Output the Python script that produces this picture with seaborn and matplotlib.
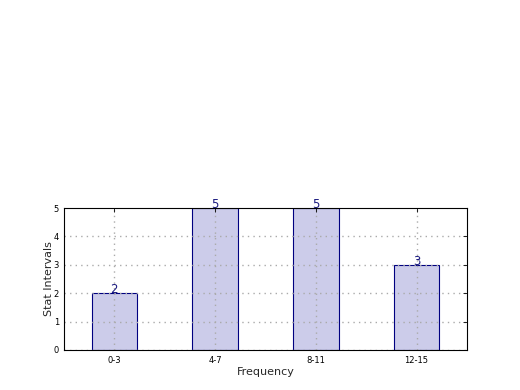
import matplotlib
matplotlib.use("Agg")
import matplotlib.pyplot as plt
import pandas as pd
import seaborn as sns

# Data
intervals = ["0-3", "4-7", "8-11", "12-15"]
counts = [2, 5, 5, 3]

df = pd.DataFrame({"interval": intervals, "count": counts})

sns.set_style("white")
plt.rcParams["font.family"] = ["DejaVu Sans"]

fig = plt.figure(figsize=(5.2, 3.9), dpi=100)
ax = fig.add_axes([0.123, 0.1026, 0.775, 0.364])

sns.barplot(
    data=df,
    x="interval",
    y="count",
    order=intervals,
    width=0.45,
    color="#ccccea",
    edgecolor="navy",
    linewidth=0.8,
    saturation=1,
    ax=ax,
)

# value labels sitting on the bar tops
for i, v in enumerate(counts):
    ax.text(i, v, str(v), ha="center", va="baseline", color="#1a1a80", fontsize=8.5)

ax.set_xlim(-0.5, 3.5)
ax.set_ylim(0, 5)
ax.set_yticks(range(0, 6))
ax.set_axisbelow(False)
ax.grid(True, linestyle=(0, (1, 3)), color="#aaaaaa", linewidth=1.0)
# keep the top frame line solid
ax.yaxis.get_gridlines()[-1].set_visible(False)
for side in ["top", "right", "bottom", "left"]:
    ax.spines[side].set_visible(True)
    ax.spines[side].set_color("black")
    ax.spines[side].set_linewidth(0.8)
    ax.spines[side].set_zorder(5)
ax.tick_params(direction="in", length=3, width=0.6, labelsize=6,
               top=True, right=True, colors="black")
ax.tick_params(axis="x", pad=4)
ax.set_xlabel("Frequency", fontsize=8, labelpad=2)
ax.set_ylabel("Stat Intervals", fontsize=8, labelpad=0)

fig.savefig("out.png", dpi=100)
